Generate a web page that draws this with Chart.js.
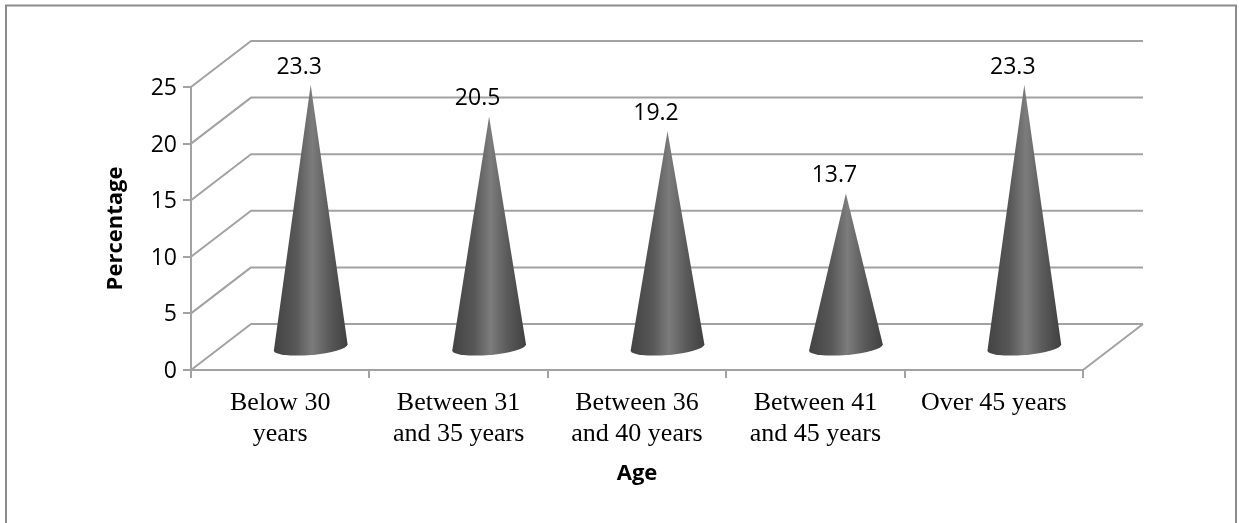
<!DOCTYPE html>
<html><head><meta charset="utf-8">
<style>html,body{margin:0;padding:0;background:#fff}#w{position:relative;width:1239px;height:523px}</style>
<script src="https://cdn.jsdelivr.net/npm/chart.js@4"></script>
</head><body><div id="w"><canvas id="c"></canvas></div>
<script>
const categories = [["Below 30","years"],["Between 31","and 35 years"],["Between 36","and 40 years"],["Between 41","and 45 years"],"Over 45 years"];
const values = [23.3,20.5,19.2,13.7,23.3];
const yTicks = [0,5,10,15,20,25];
const yTitle = "Percentage";
const xTitle = "Age";

const GRID = '#a2a2a2';
const DEPTH_X = 60, DEPTH_Y = 46;
const CONE_DX = 30.5, CONE_DY = 21.5, CONE_RX = 37, CONE_RY = 7.5;

const depthPlugin = {
  id:'depth',
  beforeDatasetsDraw(chart){
    const {ctx,scales:{x,y}} = chart;
    ctx.save();
    ctx.strokeStyle = GRID; ctx.lineWidth = 2; ctx.lineJoin='round';
    yTicks.forEach(v=>{
      const py = y.getPixelForValue(v);
      ctx.beginPath();
      ctx.moveTo(x.left,py);
      ctx.lineTo(x.left+DEPTH_X,py-DEPTH_Y);
      ctx.lineTo(x.right+DEPTH_X,py-DEPTH_Y);
      ctx.stroke();
    });
    const p0 = y.getPixelForValue(0);
    ctx.beginPath();
    ctx.moveTo(x.right,p0);
    ctx.lineTo(x.right+DEPTH_X,p0-DEPTH_Y);
    ctx.stroke();
    ctx.strokeStyle='#8c8c8c'; ctx.lineWidth=2; ctx.lineJoin='miter';
    ctx.beginPath();
    ctx.moveTo(6,chart.height);
    ctx.lineTo(6,5.5);
    ctx.lineTo(1236,5.5);
    ctx.lineTo(1236,chart.height);
    ctx.stroke();
    ctx.restore();
  },
  afterDatasetsDraw(chart){
    const {ctx} = chart;
    const meta = chart.getDatasetMeta(0);
    meta.data.forEach((el,i)=>{
      const cx = el.x+CONE_DX, tip = el.y-CONE_DY, by = el.base-CONE_DY;
      const rot = -0.085;
      const rx = cx+CONE_RX*Math.cos(rot), ry = by+CONE_RX*Math.sin(rot);
      const g = ctx.createLinearGradient(cx-CONE_RX,0,cx+CONE_RX,0);
      g.addColorStop(0,'#434343');
      g.addColorStop(0.3,'#575757');
      g.addColorStop(0.52,'#7c7c7c');
      g.addColorStop(0.75,'#5a5a5a');
      g.addColorStop(1,'#404040');
      ctx.save();
      ctx.fillStyle = g;
      ctx.beginPath();
      ctx.moveTo(cx,tip);
      ctx.lineTo(rx,ry);
      ctx.ellipse(cx,by,CONE_RX,CONE_RY,rot,0,Math.PI,false);
      ctx.closePath();
      ctx.fill();
      ctx.restore();
      ctx.save();
      ctx.fillStyle='#000';
      ctx.font='23px "Open Sans"';
      ctx.textAlign='center'; ctx.textBaseline='middle';
      ctx.fillText(values[i].toFixed(1),el.x+19,el.y-39);
      ctx.restore();
    });
  }
};

new Chart(document.getElementById('c'),{
  type:'bar',
  data:{labels:categories,datasets:[{data:values,backgroundColor:'rgba(0,0,0,0)',borderWidth:0}]},
  plugins:[depthPlugin],
  options:{
    responsive:true,maintainAspectRatio:false,animation:false,
    layout:{padding:{left:100,right:156,top:87,bottom:36}},
    plugins:{legend:{display:false},tooltip:{enabled:false},title:{display:false}},
    scales:{
      x:{
        afterFit(s){s.height=117;},
        grid:{offset:true,drawOnChartArea:false,drawTicks:true,tickLength:8,color:GRID,lineWidth:2},
        border:{color:GRID,width:2},
        ticks:{autoSkip:false,maxRotation:0,minRotation:0,padding:10,color:'#000',font:{family:'"Liberation Serif"',size:26,lineHeight:31/26}},
        title:{display:true,text:xTitle,color:'#000',font:{family:'"Open Sans"',size:22,weight:'bold',lineHeight:1.2},padding:{top:0,bottom:0}}
      },
      y:{
        min:0,max:25,
        afterFit(s){s.width=91;},
        afterBuildTicks(s){s.ticks=yTicks.map(v=>({value:v}));},
        grid:{drawOnChartArea:false,drawTicks:true,tickLength:8,color:GRID,lineWidth:2},
        border:{color:GRID,width:2},
        ticks:{padding:6,labelOffset:1.5,color:'#000',font:{family:'"Open Sans"',size:23}},
        title:{display:true,text:yTitle,color:'#000',font:{family:'"Open Sans"',size:22,weight:'bold',lineHeight:1.2},padding:{top:3,bottom:0}}
      }
    }
  }
});
</script></body></html>
